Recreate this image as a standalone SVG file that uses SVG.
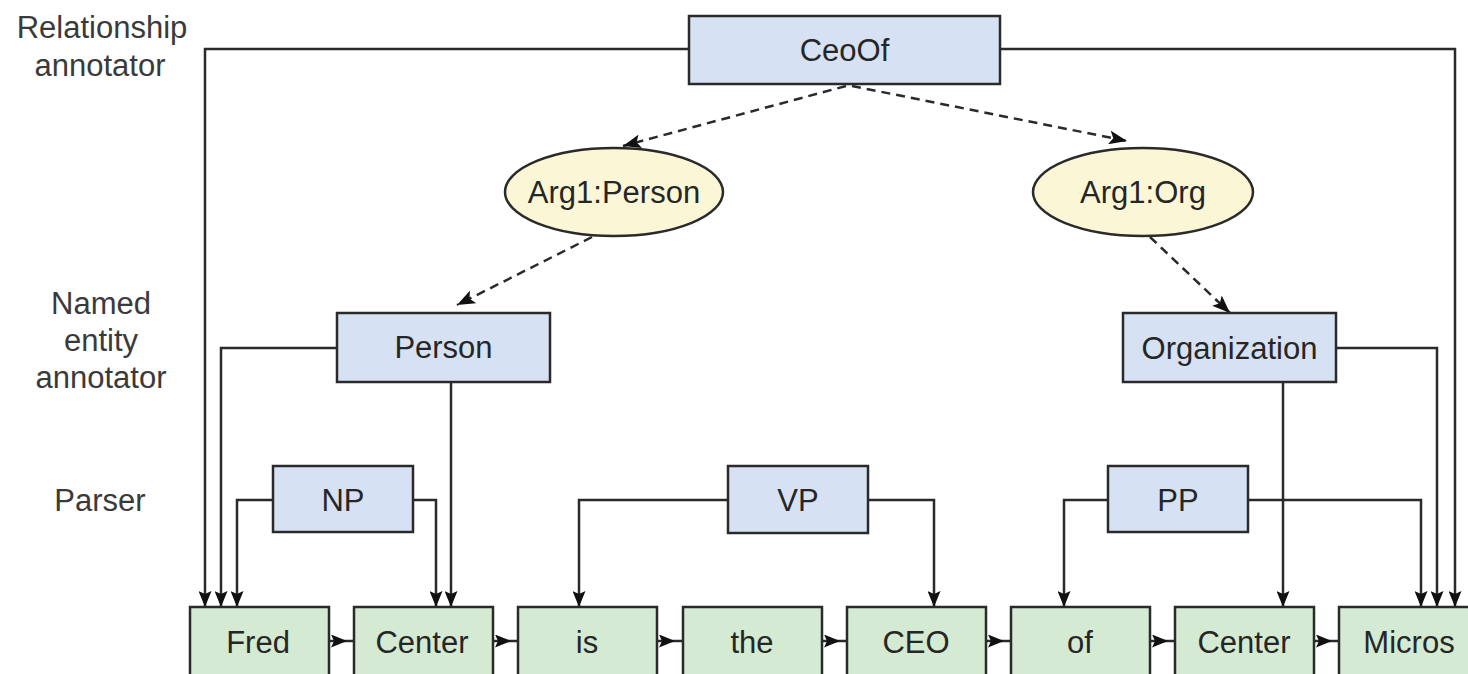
<svg xmlns="http://www.w3.org/2000/svg" width="1468" height="674" viewBox="0 0 1468 674">
  <style>
    text { font-family: "Liberation Sans", Arial, sans-serif; font-size: 31px; fill: #262626; text-anchor: middle; }
    .lane { fill: #3a3a3a; }
    .box { fill: #d6e2f3; stroke: #2a2a2a; stroke-width: 2.5; }
    .arg { fill: #fbf7d6; stroke: #2a2a2a; stroke-width: 2.5; }
    .tok { fill: #d4ead3; stroke: #2a2a2a; stroke-width: 2.5; }
    .link { fill: none; stroke: #2a2a2a; stroke-width: 2.5; marker-end: url(#head); }
    .dash { fill: none; stroke: #2a2a2a; stroke-width: 2.5; stroke-dasharray: 9 6; marker-end: url(#bighead); }
    .flow { fill: none; stroke: #2a2a2a; stroke-width: 2.5; marker-start: url(#flowhead); }
  </style>
  <defs>
    <marker id="head" viewBox="0 0 16 13" refX="16" refY="6.5" markerWidth="16" markerHeight="13" markerUnits="userSpaceOnUse" orient="auto">
      <path d="M0,0 L16,6.5 L0,13 L3,6.5 z" fill="#111"/>
    </marker>
    <marker id="bighead" viewBox="0 0 18 14" refX="18" refY="7" markerWidth="18" markerHeight="14" markerUnits="userSpaceOnUse" orient="auto">
      <path d="M0,0 L18,7 L0,14 L4,7 z" fill="#111"/>
    </marker>
    <marker id="flowhead" viewBox="0 0 16 13" refX="-2" refY="6.5" markerWidth="16" markerHeight="13" markerUnits="userSpaceOnUse" orient="auto">
      <path d="M0,0 L16,6.5 L0,13 L3,6.5 z" fill="#111"/>
    </marker>
  </defs>

  <rect width="1468" height="674" fill="#fff"/>

  <!-- annotator lane labels -->
  <g id="lane-labels">
    <text class="lane" x="102" y="38">Relationship</text>
    <text class="lane" x="100" y="76">annotator</text>
    <text class="lane" x="101" y="314">Named</text>
    <text class="lane" x="101" y="351">entity</text>
    <text class="lane" x="101" y="388">annotator</text>
    <text class="lane" x="100" y="511">Parser</text>
  </g>

  <!-- connectors -->
  <g id="connectors">
    <!-- relationship annotator -->
    <path class="link" d="M689,49 H205 V607"/>
    <path class="link" d="M1000,49 H1455 V607"/>
    <path class="dash" d="M846,86 L623,146"/>
    <path class="dash" d="M852,86 L1127,141"/>
    <path class="dash" d="M592,237 L457,305"/>
    <path class="dash" d="M1150,237 L1230,313"/>
    <!-- named entity annotator -->
    <path class="link" d="M337,348 H221 V607"/>
    <path class="link" d="M451,382 V607"/>
    <path class="link" d="M1283,382 V607"/>
    <path class="link" d="M1336,348 H1437 V607"/>
    <!-- parser -->
    <path class="link" d="M273,500 H237 V607"/>
    <path class="link" d="M413,500 H436 V607"/>
    <path class="link" d="M728,500 H579 V607"/>
    <path class="link" d="M868,500 H934 V607"/>
    <path class="link" d="M1108,500 H1064 V607"/>
    <path class="link" d="M1248,500 H1421 V607"/>
    <!-- token sequence -->
    <path class="flow" d="M329,641 H354"/>
    <path class="flow" d="M493,641 H518"/>
    <path class="flow" d="M657,641 H683"/>
    <path class="flow" d="M822,641 H847"/>
    <path class="flow" d="M986,641 H1011"/>
    <path class="flow" d="M1150,641 H1175"/>
    <path class="flow" d="M1314,641 H1339"/>
  </g>

  <g id="ceoof">
    <rect class="box" x="689" y="16" width="311" height="68"/>
    <text x="844.5" y="61">CeoOf</text>
  </g>
  <g id="arg1-person">
    <ellipse class="arg" cx="614" cy="192" rx="109" ry="44"/>
    <text x="614" y="203">Arg1:Person</text>
  </g>
  <g id="arg1-org">
    <ellipse class="arg" cx="1143" cy="192" rx="110" ry="44"/>
    <text x="1143" y="203">Arg1:Org</text>
  </g>
  <g id="person">
    <rect class="box" x="337" y="313" width="213" height="69"/>
    <text x="443.5" y="358">Person</text>
  </g>
  <g id="organization">
    <rect class="box" x="1123" y="313" width="213" height="69"/>
    <text x="1229.5" y="359">Organization</text>
  </g>
  <g id="np">
    <rect class="box" x="273" y="466" width="140" height="66"/>
    <text x="343" y="511">NP</text>
  </g>
  <g id="vp">
    <rect class="box" x="728" y="466" width="140" height="67"/>
    <text x="798" y="511">VP</text>
  </g>
  <g id="pp">
    <rect class="box" x="1108" y="466" width="140" height="66"/>
    <text x="1178" y="511">PP</text>
  </g>

  <!-- tokens -->
  <g id="tok-fred">
    <rect class="tok" x="190" y="607" width="139" height="100"/>
    <text x="258" y="653">Fred</text>
  </g>
  <g id="tok-center1">
    <rect class="tok" x="354" y="607" width="139" height="100"/>
    <text x="422" y="653">Center</text>
  </g>
  <g id="tok-is">
    <rect class="tok" x="518" y="607" width="139" height="100"/>
    <text x="587" y="653">is</text>
  </g>
  <g id="tok-the">
    <rect class="tok" x="683" y="607" width="139" height="100"/>
    <text x="752" y="653">the</text>
  </g>
  <g id="tok-ceo">
    <rect class="tok" x="847" y="607" width="139" height="100"/>
    <text x="916" y="653">CEO</text>
  </g>
  <g id="tok-of">
    <rect class="tok" x="1011" y="607" width="139" height="100"/>
    <text x="1080" y="653">of</text>
  </g>
  <g id="tok-center2">
    <rect class="tok" x="1175" y="607" width="139" height="100"/>
    <text x="1244" y="653">Center</text>
  </g>
  <g id="tok-micros">
    <rect class="tok" x="1339" y="607" width="160" height="100"/>
    <text x="1409" y="653">Micros</text>
  </g>
</svg>
